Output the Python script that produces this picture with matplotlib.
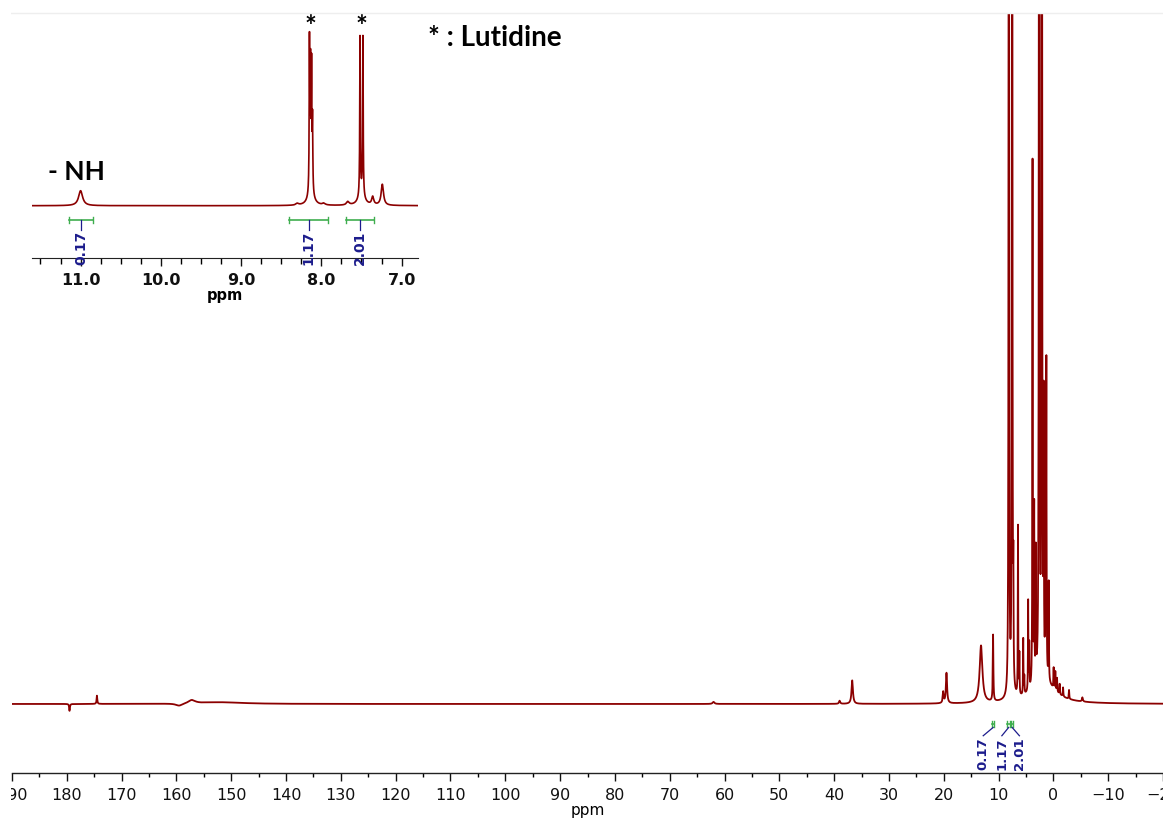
import numpy as np
import matplotlib
matplotlib.use("Agg")
import matplotlib.pyplot as plt
from matplotlib.patches import Rectangle
from matplotlib.ticker import MultipleLocator, FormatStrFormatter

# ---------------- data ----------------
# main spectrum: peak positions (ppm), heights (arb.), widths (FWHM, ppm)
main_ppm = [179.5, 174.5, 159.5, 157.2, 152.0, 62.0, 39.0, 36.7, 20.1, 19.5,
            13.2, 11.0, 8.13, 7.52, 7.3, 6.45, 6.2, 5.5, 5.3, 4.6, 4.4,
            3.8, 3.5, 3.2, 2.6, 2.1, 1.77, 1.45, 1.28, 0.85,
            -0.05, -0.36, -0.67, -1.15, -1.77, -2.86, -5.3, 1.8]
main_height = [-1.0, 1.2, -0.35, 0.5, 0.25, 0.3, 0.45, 3.4, 1.6, 4.4,
               8.3, 9.6, 260.0, 260.0, 14.0, 24.5, 5.8, 8.1, 2.5, 13.0, 6.5,
               76.0, 25.0, 18.4, 320.0, 300.0, 38.0, 23.5, 45.0, 14.2,
               3.0, 2.7, 2.0, 1.5, 1.3, 1.3, 0.6, 3.0]
main_fwhm = [0.15, 0.15, 1.5, 1.5, 10.0, 0.4, 0.25, 0.3, 0.2, 0.25,
             0.6, 0.12, 0.08, 0.08, 0.08, 0.08, 0.08, 0.08, 0.08, 0.08, 0.08,
             0.08, 0.08, 0.08, 0.08, 0.08, 0.08, 0.08, 0.08, 0.08,
             0.1, 0.1, 0.1, 0.1, 0.1, 0.1, 0.2, 5.0]

# inset (aromatic / NH region)
inset_ppm = [11.00, 8.30, 8.148, 8.135, 8.122, 8.110, 8.13, 7.97,
             7.67, 7.518, 7.482, 7.50, 7.36, 7.24]
inset_height = [15.0, 1.7, 150.0, 120.0, 120.0, 70.0, 12.0, 1.7,
                3.4, 158.0, 158.0, 12.0, 8.0, 21.0]
inset_fwhm = [0.06, 0.04, 0.008, 0.008, 0.008, 0.008, 0.08, 0.04,
              0.04, 0.008, 0.008, 0.08, 0.03, 0.035]

# integrals
int_labels = ["0.17", "1.17", "2.01"]
int_start = [11.14, 8.40, 7.69]
int_end = [10.85, 7.92, 7.35]

main_ticks = list(range(190, -21, -10))
inset_ticks = [11.0, 10.0, 9.0, 8.0, 7.0]

# ---------------- style ----------------
W, H = 1163, 820
LINE = "#8b0000"
BLUE = "#1c1c8c"
GREEN = "#3fae4f"


def lorentz_sum(x, pos, hgt, fw):
    y = np.zeros_like(x)
    for p, h, w in zip(pos, hgt, fw):
        y += h / (1.0 + ((x - p) / (w / 2.0)) ** 2)
    return y


def fig_rect(x0, y0, x1, y1):
    return [x0 / W, 1 - y1 / H, (x1 - x0) / W, (y1 - y0) / H]


fig = plt.figure(figsize=(W / 100, H / 100), dpi=100)
fig.patch.set_facecolor("white")

# faint frame line at the very top
fig.add_artist(plt.Line2D([10 / W, 1], [1 - 14 / H, 1 - 14 / H],
                          color="#eeeeee", lw=1, transform=fig.transFigure))

# ---------------- main spectrum ----------------
ax = fig.add_axes(fig_rect(12, 15, 1163, 774))
x = np.arange(-20, 190.0005, 0.005)
y = lorentz_sum(x, main_ppm, main_height, main_fwhm)
ax.plot(x, y, color=LINE, lw=1.3)
ax.set_xlim(190, -20)
ax.set_ylim(-10, 100)
for s in ("left", "right", "top"):
    ax.spines[s].set_visible(False)
ax.spines["bottom"].set_color("#222222")
ax.spines["bottom"].set_linewidth(1.0)
ax.set_yticks([])
ax.set_xticks(main_ticks)
ax.xaxis.set_minor_locator(MultipleLocator(5))
ax.tick_params(axis="x", which="major", direction="out", length=6, width=1,
               labelsize=11.5, pad=4, colors="#111111")
ax.tick_params(axis="x", which="minor", direction="out", length=3, width=1)
ax.set_xlabel("ppm", fontsize=11, labelpad=0)
ax.patch.set_alpha(0)

# integration marks in main spectrum
lab_x_main = [12.8, 9.4, 6.2]
for lab, s, e, lx in zip(int_labels, int_start, int_end, lab_x_main):
    c = (s + e) / 2
    ax.plot([s, e], [-2.9, -2.9], color=GREEN, lw=1.2)
    ax.plot([s, s], [-2.4, -3.4], color=GREEN, lw=1.0)
    ax.plot([e, e], [-2.4, -3.4], color=GREEN, lw=1.0)
    ax.plot([c, (c + lx) / 2, lx], [-3.4, -4.0, -4.6], color=BLUE, lw=0.9)
    ax.text(lx, -7.1, lab, rotation=90, ha="center", va="center",
            color=BLUE, fontsize=9.5, fontweight="bold")

# ---------------- inset ----------------
ai = fig.add_axes(fig_rect(32.45, 15, 417.65, 258.7))
xi = np.arange(6.8, 11.6, 0.0005)
yi = lorentz_sum(xi, inset_ppm, inset_height, inset_fwhm)
ai.plot(xi, yi, color=LINE, lw=1.2)
ai.set_xlim(11.6, 6.8)
ai.set_ylim(-52, 191.7)
for s in ("left", "right", "top"):
    ai.spines[s].set_visible(False)
ai.spines["bottom"].set_color("#222222")
ai.set_yticks([])
ai.set_xticks(inset_ticks)
ai.xaxis.set_major_formatter(FormatStrFormatter("%.1f"))
ai.xaxis.set_minor_locator(MultipleLocator(0.25))
ai.tick_params(axis="x", which="major", direction="out", length=6, width=1,
               labelsize=11.5, pad=4, colors="#111111")
ai.tick_params(axis="x", which="minor", direction="out", length=4, width=1)
for t in ai.get_xticklabels():
    t.set_fontweight("bold")
ai.set_xlabel("ppm", fontsize=10.5, fontweight="bold", labelpad=0)
ai.patch.set_alpha(0)

for lab, s, e in zip(int_labels, int_start, int_end):
    c = (s + e) / 2
    ai.plot([s, e], [-14.3, -14.3], color=GREEN, lw=1.2)
    ai.plot([s, s], [-11.3, -17.3], color=GREEN, lw=1.0)
    ai.plot([e, e], [-11.3, -17.3], color=GREEN, lw=1.0)
    ai.plot([c, c], [-14.3, -24.0], color=BLUE, lw=0.9)
    ai.text(c, -41.5, lab, rotation=90, ha="center", va="center",
            color=BLUE, fontsize=10, fontweight="bold", zorder=5)

# annotations
ai.text(8.13, 180, "*", ha="center", va="center", fontsize=20,
        fontweight="bold", family="Lato")
ai.text(7.50, 180, "*", ha="center", va="center", fontsize=20,
        fontweight="bold", family="Lato")
ai.text(11.05, 35, "- NH", ha="center", va="center", fontsize=19,
        fontweight="bold", family="Lato")
fig.text(428 / W, 1 - 38 / H, "* : Lutidine", ha="left", va="center",
         fontsize=20, fontweight="bold", family="Lato")

# the reference is cropped a few pixels into the left-most tick label
fig.add_artist(Rectangle((0, 0), 11 / W, 1, transform=fig.transFigure,
                         facecolor="white", edgecolor="none", zorder=10))

fig.savefig("out.png", dpi=100, facecolor="white")
